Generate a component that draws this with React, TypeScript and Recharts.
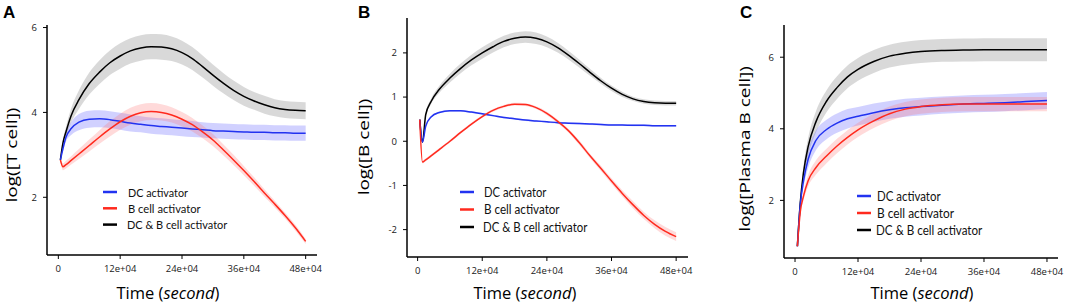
import React from "react";
import {
  Area,
  ComposedChart,
  Customized,
  Legend,
  Line,
  XAxis,
  YAxis,
} from "recharts";

// time in units of 1e4 seconds
const AB_TIME = [0.4, 0.9, 1.5, 2.5, 4, 6, 8, 10, 12, 14, 16, 18, 20, 22, 24, 26, 28, 30, 32, 34, 36, 38, 40, 42, 44, 46, 48];
const C_TIME = [0.45, 1, 1.6, 2.5, 4, 6, 8, 10, 12, 15, 18, 21, 24, 28, 32, 36, 40, 44, 48];

const X_TICKS = [0, 120000, 240000, 360000, 480000];

// panel A: log([T cell])
const A_BLUE = [2.88, 3.15, 3.42, 3.62, 3.77, 3.84, 3.85, 3.83, 3.79, 3.75, 3.72, 3.69, 3.67, 3.65, 3.63, 3.61, 3.59, 3.57, 3.56, 3.55, 3.54, 3.53, 3.53, 3.52, 3.52, 3.51, 3.51];
const A_BLUE_ERR = [0.02, 0.06, 0.1, 0.15, 0.19, 0.2, 0.2, 0.2, 0.2, 0.2, 0.19, 0.19, 0.19, 0.19, 0.19, 0.19, 0.18, 0.18, 0.18, 0.18, 0.18, 0.18, 0.18, 0.18, 0.18, 0.18, 0.18];
const A_RED = [2.88, 2.72, 2.77, 2.87, 3.02, 3.22, 3.42, 3.61, 3.78, 3.91, 3.99, 4.02, 4.0, 3.94, 3.84, 3.71, 3.54, 3.35, 3.12, 2.88, 2.63, 2.37, 2.1, 1.84, 1.57, 1.28, 0.96];
const A_RED_ERR = [0.02, 0.08, 0.09, 0.1, 0.12, 0.14, 0.16, 0.18, 0.19, 0.2, 0.2, 0.2, 0.19, 0.18, 0.17, 0.16, 0.15, 0.14, 0.13, 0.12, 0.11, 0.1, 0.09, 0.08, 0.07, 0.07, 0.06];
const A_BLACK = [2.88, 3.28, 3.55, 3.93, 4.3, 4.68, 4.95, 5.17, 5.33, 5.45, 5.52, 5.55, 5.54, 5.5, 5.41, 5.27, 5.08, 4.88, 4.69, 4.52, 4.38, 4.27, 4.18, 4.11, 4.07, 4.05, 4.04];
const A_BLACK_ERR = [0.02, 0.08, 0.12, 0.17, 0.22, 0.26, 0.28, 0.29, 0.3, 0.3, 0.3, 0.3, 0.3, 0.29, 0.28, 0.27, 0.26, 0.25, 0.24, 0.23, 0.22, 0.21, 0.21, 0.2, 0.2, 0.2, 0.2];

// panel B: log([B cell])
const B_BLUE = [0.49, -0.02, 0.34, 0.55, 0.65, 0.69, 0.69, 0.66, 0.62, 0.58, 0.54, 0.51, 0.48, 0.46, 0.44, 0.42, 0.41, 0.4, 0.39, 0.38, 0.37, 0.37, 0.36, 0.36, 0.35, 0.35, 0.35];
const B_BLUE_ERR = [0.01, 0.01, 0.02, 0.02, 0.02, 0.02, 0.02, 0.02, 0.02, 0.02, 0.02, 0.02, 0.02, 0.02, 0.02, 0.02, 0.02, 0.02, 0.02, 0.02, 0.02, 0.02, 0.02, 0.02, 0.02, 0.02, 0.02];
const B_RED = [0.49, -0.47, -0.42, -0.33, -0.19, 0.0, 0.2, 0.39, 0.56, 0.7, 0.79, 0.84, 0.83, 0.76, 0.63, 0.45, 0.24, -0.03, -0.33, -0.61, -0.9, -1.18, -1.44, -1.68, -1.88, -2.04, -2.16];
const B_RED_ERR = [0.02, 0.03, 0.03, 0.03, 0.03, 0.03, 0.03, 0.03, 0.03, 0.03, 0.03, 0.03, 0.03, 0.03, 0.04, 0.04, 0.04, 0.05, 0.05, 0.06, 0.06, 0.07, 0.08, 0.08, 0.09, 0.1, 0.1];
const B_BLACK = [0.49, -0.02, 0.6, 0.9, 1.17, 1.43, 1.65, 1.84, 2.0, 2.14, 2.26, 2.33, 2.36, 2.33, 2.25, 2.12, 1.95, 1.76, 1.56, 1.37, 1.2, 1.06, 0.96, 0.9, 0.87, 0.86, 0.86];
const B_BLACK_ERR = [0.02, 0.02, 0.04, 0.06, 0.08, 0.1, 0.11, 0.12, 0.13, 0.13, 0.13, 0.13, 0.13, 0.13, 0.12, 0.11, 0.1, 0.09, 0.08, 0.07, 0.06, 0.06, 0.05, 0.05, 0.05, 0.05, 0.05];

// panel C: log([Plasma B cell])
const C_BLUE = [0.72, 1.88, 2.53, 3.15, 3.68, 3.98, 4.16, 4.28, 4.35, 4.45, 4.53, 4.59, 4.62, 4.66, 4.69, 4.71, 4.73, 4.76, 4.79];
const C_BLUE_ERR = [0.02, 0.1, 0.18, 0.24, 0.27, 0.27, 0.27, 0.27, 0.26, 0.26, 0.25, 0.25, 0.25, 0.24, 0.24, 0.24, 0.24, 0.24, 0.24];
const C_RED = [0.72, 1.68, 2.11, 2.55, 2.92, 3.24, 3.52, 3.76, 3.97, 4.22, 4.42, 4.55, 4.62, 4.67, 4.69, 4.69, 4.69, 4.69, 4.69];
const C_RED_ERR = [0.02, 0.08, 0.12, 0.16, 0.2, 0.2, 0.2, 0.2, 0.2, 0.2, 0.2, 0.2, 0.2, 0.2, 0.2, 0.2, 0.2, 0.2, 0.2];
const C_BLACK = [0.72, 1.93, 2.76, 3.5, 4.2, 4.77, 5.15, 5.45, 5.66, 5.88, 6.03, 6.11, 6.16, 6.19, 6.2, 6.21, 6.21, 6.21, 6.21];
const C_BLACK_ERR = [0.02, 0.1, 0.18, 0.25, 0.3, 0.31, 0.32, 0.32, 0.32, 0.32, 0.32, 0.32, 0.32, 0.32, 0.32, 0.32, 0.32, 0.32, 0.32];

const SERIES_NAMES = ["DC activator", "B cell activator", "DC & B cell activator"];
// rendered widths of the legend labels (px), used to fit the condensed look
const LEGEND_TEXT_WIDTHS = [60, 72.7, 100.3];

const BLUE = "#2233f0";
const RED = "#ff2a1e";
const BLACK = "#000000";
const TICK_FONT = "'Open Sans', sans-serif";

type Row = {
  t: number;
  blue: number;
  red: number;
  black: number;
  blueBand: [number, number];
  redBand: [number, number];
  blackBand: [number, number];
};

function buildRows(
  time: number[],
  blue: number[],
  blueErr: number[],
  red: number[],
  redErr: number[],
  black: number[],
  blackErr: number[],
): Row[] {
  return time.map((t, i) => ({
    t: t * 1e4,
    blue: blue[i],
    red: red[i],
    black: black[i],
    blueBand: [blue[i] - blueErr[i], blue[i] + blueErr[i]],
    redBand: [red[i] - redErr[i], red[i] + redErr[i]],
    blackBand: [black[i] - blackErr[i], black[i] + blackErr[i]],
  }));
}

const A_ROWS = buildRows(AB_TIME, A_BLUE, A_BLUE_ERR, A_RED, A_RED_ERR, A_BLACK, A_BLACK_ERR);
const B_ROWS = buildRows(AB_TIME, B_BLUE, B_BLUE_ERR, B_RED, B_RED_ERR, B_BLACK, B_BLACK_ERR);
const C_ROWS = buildRows(C_TIME, C_BLUE, C_BLUE_ERR, C_RED, C_RED_ERR, C_BLACK, C_BLACK_ERR);

const fmtTime = (v: number) => (v === 0 ? "0" : `${Math.round(v / 1e4)}e+04`);

function LegendBox({
  rowGap,
  textX,
  scale,
}: {
  rowGap: number;
  textX: number;
  scale: number;
}) {
  const colors = [BLUE, RED, BLACK];
  const w = textX + LEGEND_TEXT_WIDTHS[2] * scale + 14;
  return (
    <svg width={w} height={rowGap * 3 + 10} style={{ display: "block", overflow: "visible" }}>
      {SERIES_NAMES.map((name, i) => {
        const y = 8 + i * rowGap;
        return (
          <g key={name}>
            <line x1={0} x2={14} y1={y} y2={y} stroke={colors[i]} strokeWidth={2.5} />
            <text
              x={i === 2 ? textX - 1 : textX}
              y={y}
              dominantBaseline="central"
              fontFamily="Lato, sans-serif"
              fontSize={12 * scale}
              fill="#111"
              textLength={LEGEND_TEXT_WIDTHS[i] * scale}
              lengthAdjust="spacingAndGlyphs"
            >
              {name}
            </text>
          </g>
        );
      })}
    </svg>
  );
}

type PanelProps = {
  rows: Row[];
  left: number;
  width: number;
  top: number;
  right: number;
  yAxisWidth: number;
  xAxisHeight: number;
  xDomain: [number, number];
  yDomain: [number, number];
  yTicks: number[];
  letter: string;
  letterX: number;
  yLabel: string;
  yLabelX: number;
  yLabelY: number;
  xLabelX: number;
  legendX: number;
  legendY: number;
  legendGap: number;
  legendTextX: number;
  legendScale: number;
};

function Panel(p: PanelProps) {
  const titles = () => (
    <g>
      <text
        x={p.letterX}
        y={18}
        fontFamily="'Liberation Sans', Arial, sans-serif"
        fontWeight="bold"
        fontSize={17}
        fill="#000"
      >
        {p.letter}
      </text>
      <text
        transform={`translate(${p.yLabelX},${p.yLabelY}) rotate(-90) scale(1,0.72)`}
        textAnchor="middle"
        dominantBaseline="central"
        fontFamily="'Open Sans', sans-serif"
        fontSize={19}
        fill="#000"
      >
        {p.yLabel}
      </text>
      <text
        x={p.xLabelX}
        y={299}
        textAnchor="middle"
        fontFamily="'Open Sans', sans-serif"
        fontSize={16.5}
        fill="#000"
      >
        Time (<tspan fontStyle="italic">second</tspan>)
      </text>
    </g>
  );

  return (
    <div style={{ position: "absolute", left: p.left, top: 0 }}>
      <ComposedChart
        width={p.width}
        height={308}
        data={p.rows}
        margin={{ top: p.top, right: p.right, left: 0, bottom: 0 }}
      >
        <XAxis
          dataKey="t"
          type="number"
          domain={p.xDomain}
          ticks={X_TICKS}
          interval={0}
          allowDataOverflow
          tickFormatter={fmtTime}
          height={p.xAxisHeight}
          axisLine={{ stroke: "#000", strokeWidth: 1.5 }}
          tickLine={{ stroke: "#000", strokeWidth: 1 }}
          tickSize={4}
          tickMargin={6}
          tick={{ fontSize: 9.5, fill: "#1a1a1a", fontFamily: TICK_FONT }}
        />
        <YAxis
          type="number"
          domain={p.yDomain}
          ticks={p.yTicks}
          interval={0}
          allowDataOverflow
          width={p.yAxisWidth}
          axisLine={{ stroke: "#000", strokeWidth: 1.5 }}
          tickLine={{ stroke: "#000", strokeWidth: 1 }}
          tickSize={4}
          tickMargin={6}
          tick={{ fontSize: 9.5, fill: "#1a1a1a", fontFamily: TICK_FONT }}
        />
        <Area
          type="monotone"
          dataKey="blackBand"
          stroke="none"
          fill="#000"
          fillOpacity={0.15}
          isAnimationActive={false}
        />
        <Area
          type="monotone"
          dataKey="blueBand"
          stroke="none"
          fill="#5a5aff"
          fillOpacity={0.28}
          isAnimationActive={false}
        />
        <Area
          type="monotone"
          dataKey="redBand"
          stroke="none"
          fill="#ff6a6a"
          fillOpacity={0.25}
          isAnimationActive={false}
        />
        <Line
          type="monotone"
          dataKey="black"
          stroke={BLACK}
          strokeWidth={1.5}
          dot={false}
          isAnimationActive={false}
        />
        <Line
          type="monotone"
          dataKey="blue"
          stroke={BLUE}
          strokeWidth={1.5}
          dot={false}
          isAnimationActive={false}
        />
        <Line
          type="monotone"
          dataKey="red"
          stroke={RED}
          strokeWidth={1.5}
          dot={false}
          isAnimationActive={false}
        />
        <Legend
          layout="vertical"
          align="center"
          verticalAlign="middle"
          content={() => (
            <LegendBox rowGap={p.legendGap} textX={p.legendTextX} scale={p.legendScale} />
          )}
          wrapperStyle={{ left: p.legendX, top: p.legendY, width: "auto", height: "auto" }}
        />
        <Customized component={titles} />
      </ComposedChart>
    </div>
  );
}

export default function App() {
  return (
    <div style={{ position: "absolute", left: 0, top: 0, width: 1065, height: 308, background: "#fff" }}>
      <Panel
        rows={A_ROWS}
        left={0}
        width={330}
        top={25}
        right={13}
        yAxisWidth={47}
        xAxisHeight={53}
        xDomain={[-22000, 502000]}
        yDomain={[0.64, 6.06]}
        yTicks={[2, 4, 6]}
        letter="A"
        letterX={3}
        yLabel="log([T cell])"
        yLabelX={12}
        yLabelY={155}
        xLabelX={168}
        legendX={103}
        legendY={184}
        legendGap={16.3}
        legendTextX={25}
        legendScale={1}
      />
      <Panel
        rows={B_ROWS}
        left={355}
        width={345}
        top={18}
        right={12}
        yAxisWidth={52}
        xAxisHeight={51}
        xDomain={[-19700, 502000]}
        yDomain={[-2.62, 2.79]}
        yTicks={[-2, -1, 0, 1, 2]}
        letter="B"
        letterX={3}
        yLabel="log([B cell])"
        yLabelX={8.5}
        yLabelY={147}
        xLabelX={170}
        legendX={105}
        legendY={184}
        legendGap={17.5}
        legendTextX={24}
        legendScale={1.04}
      />
      <Panel
        rows={C_ROWS}
        left={710}
        width={355}
        top={25}
        right={7}
        yAxisWidth={74}
        xAxisHeight={50}
        xDomain={[-21000, 501000]}
        yDomain={[0.39, 6.9]}
        yTicks={[2, 4, 6]}
        letter="C"
        letterX={30}
        yLabel="log([Plasma B cell])"
        yLabelX={35}
        yLabelY={149}
        xLabelX={212}
        legendX={147}
        legendY={188}
        legendGap={17}
        legendTextX={20}
        legendScale={1.06}
      />
    </div>
  );
}
